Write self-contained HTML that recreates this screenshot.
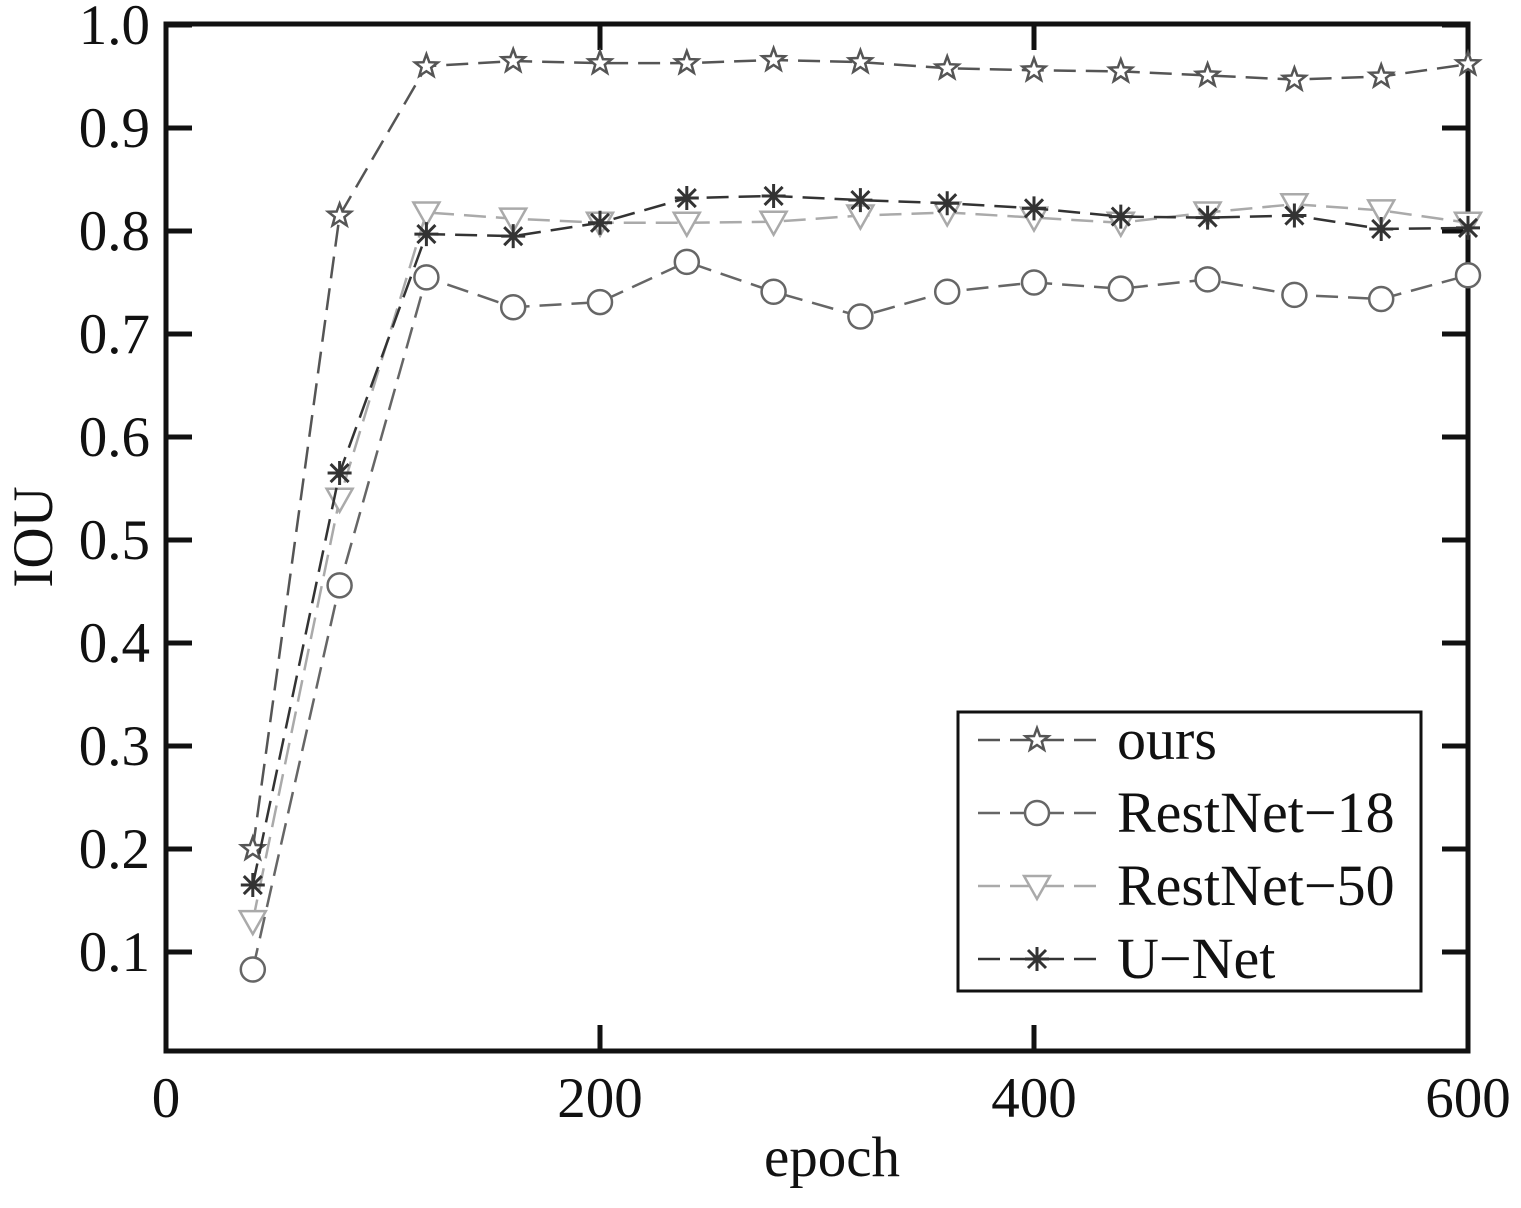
<!DOCTYPE html>
<html><head><meta charset="utf-8"><style>body{margin:0;background:#fff}svg text{font-family:"Liberation Serif",serif}</style></head>
<body>
<svg id="chart" width="1521" height="1203" viewBox="0 0 1521 1203" xmlns="http://www.w3.org/2000/svg"></svg>
<script>
const epochs=[40,80,120,160,200,240,280,320,360,400,440,480,520,560,600];
const oursVals=[0.20,0.815,0.960,0.965,0.963,0.963,0.966,0.964,0.958,0.956,0.955,0.951,0.947,0.950,0.962];
const res18Vals=[0.083,0.456,0.755,0.726,0.731,0.770,0.741,0.717,0.741,0.750,0.744,0.753,0.738,0.734,0.757];
const res50Vals=[0.13,0.54,0.818,0.812,0.808,0.808,0.809,0.815,0.818,0.813,0.808,0.818,0.826,0.820,0.808];
const unetVals=[0.165,0.565,0.797,0.795,0.808,0.832,0.834,0.830,0.827,0.822,0.814,0.813,0.815,0.802,0.803];
const yTicks=[0.1,0.2,0.3,0.4,0.5,0.6,0.7,0.8,0.9,1.0];
const yTickLabels=["0.1","0.2","0.3","0.4","0.5","0.6","0.7","0.8","0.9","1.0"];
const xTicks=[0,200,400,600];
const xTickLabels=["0","200","400","600"];
const L=166,R=1468,T=24,B=1051;
const xs=v=>L+(v/600)*(R-L);
const ys=v=>1055-1030*v;
const svg=document.getElementById('chart');
const NS='http://www.w3.org/2000/svg';
function mk(tag,attrs,parent){const e=document.createElementNS(NS,tag);for(const k in attrs)e.setAttribute(k,attrs[k]);(parent||svg).appendChild(e);return e;}
let g=mk('g',{});


yTicks.forEach((v,i)=>{
 const y=ys(v);
 let t=mk('line',{x1:L,x2:L+26,y1:y,y2:y,stroke:'#111','stroke-width':5},g);
 
 
 let t2=mk('line',{x1:R,x2:R-26,y1:y,y2:y,stroke:'#111','stroke-width':5},g);
 
 
 let tx=mk('text',{x:L-16,y:y+19,'text-anchor':'end','font-size':57,fill:'#111'},g);
 tx.textContent=yTickLabels[i];
 
 
});
xTicks.forEach((v,i)=>{
 const x=xs(v);
 let t=mk('line',{x1:x,x2:x,y1:B,y2:B-26,stroke:'#111','stroke-width':5},g);
 
 
 let t2=mk('line',{x1:x,x2:x,y1:T,y2:T+26,stroke:'#111','stroke-width':5},g);
 
 
 let tx=mk('text',{x:x,y:B+66,'text-anchor':'middle','font-size':57,fill:'#111'},g);
 tx.textContent=xTickLabels[i];
 
 
});
let frame=mk('rect',{x:L,y:T,width:R-L,height:B-T,fill:'none',stroke:'#111','stroke-width':5},g);


let xl=mk('text',{x:832,y:1176,'text-anchor':'middle','font-size':57,fill:'#111'});
xl.textContent='epoch';


let yl=mk('text',{x:0,y:0,'text-anchor':'middle','font-size':57,fill:'#111',transform:'translate(52,537) rotate(-90)'});
yl.textContent='IOU';



function marker(type,x,y,col,parent){
 let e;
 if(type==='star'){
  let p=[];for(let k=0;k<10;k++){const r=k%2?5:12;const a=-Math.PI/2+k*Math.PI/5;p.push((x+r*Math.cos(a)).toFixed(1)+','+(y+r*Math.sin(a)).toFixed(1));}
  e=mk('polygon',{points:p.join(' '),fill:'#fff',stroke:col,'stroke-width':2.5},parent);
 }else if(type==='circle'){
  e=mk('circle',{cx:x,cy:y,r:12,fill:'#fff',stroke:col,'stroke-width':2.5},parent);
 }else if(type==='tri'){
  e=mk('polygon',{points:`${x-13},${y-10} ${x+13},${y-10} ${x},${y+13}`,fill:'#fff',stroke:col,'stroke-width':2.5},parent);
 }else{
  e=mk('path',{d:`M${x-12},${y}H${x+12}M${x},${y-12}V${y+12}M${x-9},${y-9}L${x+9},${y+9}M${x-9},${y+9}L${x+9},${y-9}`,stroke:col,'stroke-width':3,fill:'none'},parent);
 }
 return e;
}
const series=[
 {name:'ours',vals:oursVals,m:'star',col:'#555'},
 {name:'restnet-18',vals:res18Vals,m:'circle',col:'#666'},
 {name:'restnet-50',vals:res50Vals,m:'tri',col:'#aaa'},
 {name:'u-net',vals:unetVals,m:'ast',col:'#333'}
];
series.forEach(s=>{
 let sg=mk('g',{});
 
 
 let pl=mk('polyline',{points:epochs.map((e,i)=>xs(e)+','+ys(s.vals[i])).join(' '),fill:'none',stroke:s.col,'stroke-width':2.5,'stroke-dasharray':'22,10'},sg);
 
 
 epochs.forEach((e,i)=>{
  let m=marker(s.m,xs(e),ys(s.vals[i]),s.col,sg);
  
  
 });
});
let lg=mk('g',{});


let lb=mk('rect',{x:958,y:712,width:463,height:279,fill:'#fff',stroke:'#111','stroke-width':3},lg);


const legNames=['ours','RestNet\u221218','RestNet\u221250','U\u2212Net'];
series.forEach((s,i)=>{
 const y=740+i*73;
 let le=mk('g',{},lg);
 
 
 mk('line',{x1:978,x2:1098,y1:y,y2:y,stroke:s.col,'stroke-width':2.5,'stroke-dasharray':'22,10'},le);
 marker(s.m,1037,y,s.col,le);
 let t=mk('text',{x:1117,y:y+19,'font-size':58,fill:'#111'},le);
 t.textContent=legNames[i];
});
</script>
</body></html>
